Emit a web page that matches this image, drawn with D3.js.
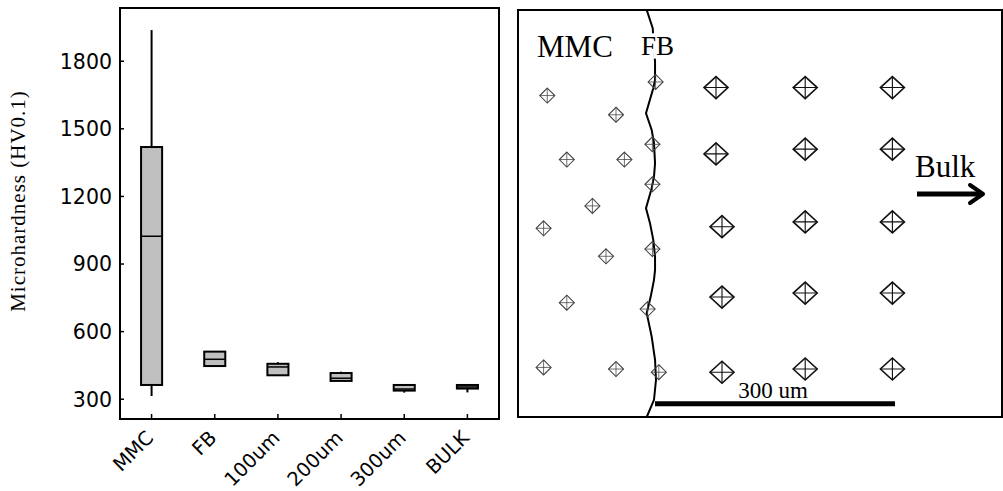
<!DOCTYPE html>
<html>
<head>
<meta charset="utf-8">
<script src="https://cdn.jsdelivr.net/npm/d3@7"></script>
<style>
  html, body { margin: 0; padding: 0; background: #fff; }
  svg { display: block; }
</style>
</head>
<body>
<svg id="chart" width="1003" height="491"></svg>
<script>
// ---------- Box plot data (HV0.1) ----------
const categories = ["MMC", "FB", "100um", "200um", "300um", "BULK"];
const whiskerLow  = [312, 441, 401, 378, 327, 328];
const q1          = [361, 445, 404, 379, 336, 345];
const median      = [1021, 475, 441, 391, 343, 352];
const q3          = [1417, 509, 455, 414, 361, 361];
const whiskerHigh = [1936, 512, 462, 420, 361, 361];
const yTicks = [300, 600, 900, 1200, 1500, 1800];

// ---------- Schematic panel data (micrometres) ----------
const smallIndentX = [36.6, 122.5, 172, 61, 133, 168, 168, 93, 32, 168, 110, 61, 162, 32, 122.5, 176];
const smallIndentY = [107, 131, 90, 187, 187, 168, 218, 245, 273, 299, 308, 366, 374, 447, 449, 453];
const largeIndentX = [247.5, 359, 468, 247.5, 359, 468, 255, 359, 468, 255, 359, 468, 255, 359, 468];
const largeIndentY = [97, 97, 97, 180, 174, 174, 271, 265, 265, 359, 354, 354, 453, 449, 449];
const boundaryX = [160.9, 168.4, 171.3, 171.3, 169.1, 160, 167.1, 170, 171.3, 170, 167.1, 160, 165, 169.1, 171.3, 171.3, 170, 165.9, 160.9, 167.1, 171.3, 172.5, 170, 160.9];
const boundaryY = [0, 22.9, 64.6, 87.5, 97.9, 129.1, 150, 166.6, 191.6, 208.4, 222.9, 247.9, 266.6, 287.5, 308.4, 325, 337.5, 358.4, 379.1, 408.4, 437.5, 462.5, 487.5, 509];
const scaleBarStart = 171.25, scaleBarLength = 300, scaleBarY = 492.5;
const panelWidthUm = 605, panelHeightUm = 509;

const svg = d3.select("#chart");

// ================= LEFT: box plot =================
const L = { left: 120, right: 499, top: 8, bottom: 419 };
const x = d3.scaleBand().domain(categories).range([L.left, L.right]).padding(0);
const y = d3.scaleLinear().domain([210, 2034]).range([L.bottom, L.top]);

const left = svg.append("g");

// y axis ticks (inward) and labels
const yAxis = d3.axisLeft(y).tickValues(yTicks).tickFormat(d3.format("d"))
  .tickSizeInner(-4).tickSizeOuter(0).tickPadding(10);
const gy = left.append("g").attr("transform", `translate(${L.left},0)`).call(yAxis);
gy.select(".domain").remove();
gy.selectAll(".tick line").attr("stroke", "#000").attr("stroke-width", 1.5);
gy.selectAll(".tick text")
  .attr("x", -8)
  .attr("font-family", "DejaVu Sans, Verdana, sans-serif")
  .attr("font-size", 20.5).attr("fill", "#000").attr("dy", "0.36em");

// x axis ticks (inward) and rotated labels
const xAxis = d3.axisBottom(x).tickSizeInner(-5).tickSizeOuter(0).tickFormat("");
const gx = left.append("g").attr("transform", `translate(0,${L.bottom})`).call(xAxis);
gx.select(".domain").remove();
gx.selectAll(".tick line").attr("stroke", "#000").attr("stroke-width", 1.5);
left.append("g").selectAll("text").data(categories).join("text")
  .attr("transform", d => `translate(${x(d) + x.bandwidth() / 2 + 3},${L.bottom + 20}) rotate(-45)`)
  .attr("text-anchor", "end")
  .attr("font-family", "DejaVu Sans, Verdana, sans-serif")
  .attr("font-size", 19.5).attr("fill", "#000")
  .text(d => d);

// y label
left.append("text")
  .attr("transform", `translate(25,201) rotate(-90)`)
  .attr("text-anchor", "middle")
  .attr("font-family", "Liberation Serif, Times New Roman, serif")
  .attr("font-size", 21).attr("letter-spacing", 1).attr("fill", "#000")
  .text("Microhardness (HV0.1)");

// boxes
const boxW = x.bandwidth() / 3;
const boxes = left.append("g").selectAll("g").data(categories).join("g");
boxes.append("line")
  .attr("x1", (d) => x(d) + x.bandwidth() / 2).attr("x2", (d) => x(d) + x.bandwidth() / 2)
  .attr("y1", (d, i) => y(whiskerHigh[i])).attr("y2", (d, i) => y(q3[i]))
  .attr("stroke", "#000").attr("stroke-width", 2);
boxes.append("line")
  .attr("x1", (d) => x(d) + x.bandwidth() / 2).attr("x2", (d) => x(d) + x.bandwidth() / 2)
  .attr("y1", (d, i) => y(q1[i])).attr("y2", (d, i) => y(whiskerLow[i]))
  .attr("stroke", "#000").attr("stroke-width", 2);
boxes.append("rect")
  .attr("x", d => x(d) + x.bandwidth() / 2 - boxW / 2)
  .attr("width", boxW)
  .attr("y", (d, i) => y(q3[i]))
  .attr("height", (d, i) => y(q1[i]) - y(q3[i]))
  .attr("fill", "#c0c0c0").attr("stroke", "#000").attr("stroke-width", 2);
boxes.append("line")
  .attr("x1", d => x(d) + x.bandwidth() / 2 - boxW / 2)
  .attr("x2", d => x(d) + x.bandwidth() / 2 + boxW / 2)
  .attr("y1", (d, i) => y(median[i])).attr("y2", (d, i) => y(median[i]))
  .attr("stroke", "#000").attr("stroke-width", 1.5);

// frame
left.append("rect")
  .attr("x", L.left).attr("y", L.top)
  .attr("width", L.right - L.left).attr("height", L.bottom - L.top)
  .attr("fill", "none").attr("stroke", "#000").attr("stroke-width", 2);

// ================= RIGHT: schematic =================
const R = { left: 518, right: 1002, top: 10, bottom: 417 };
const sx = d3.scaleLinear().domain([0, panelWidthUm]).range([R.left, R.right]);
const sy = d3.scaleLinear().domain([0, panelHeightUm]).range([R.top, R.bottom]);
const right = svg.append("g");

right.append("rect")
  .attr("x", R.left).attr("y", R.top)
  .attr("width", R.right - R.left).attr("height", R.bottom - R.top)
  .attr("fill", "#fff").attr("stroke", "#000").attr("stroke-width", 2);

function indent(g, xs, ys, hw, hh, color, sw) {
  const pts = xs.map((v, i) => [sx(v), sy(ys[i])]);
  const gg = g.append("g").selectAll("g").data(pts).join("g")
    .attr("transform", d => `translate(${d[0]},${d[1]})`);
  gg.append("path")
    .attr("d", `M0,${-hh}L${hw},0L0,${hh}L${-hw},0Z`)
    .attr("fill", "none").attr("stroke", color).attr("stroke-width", sw);
  gg.append("path")
    .attr("d", `M0,${-hh}V${hh}M${-hw},0H${hw}`)
    .attr("fill", "none").attr("stroke", color).attr("stroke-width", sw * 0.7);
}

// boundary line
const line = d3.line().x(d => sx(d[0])).y(d => sy(d[1]));
right.append("path")
  .datum(boundaryX.map((v, i) => [v, boundaryY[i]]))
  .attr("d", line)
  .attr("fill", "none").attr("stroke", "#000").attr("stroke-width", 2);

indent(right, smallIndentX, smallIndentY, 7.5, 7.5, "#444", 1.1);
indent(right, largeIndentX, largeIndentY, 12, 11, "#111", 1.6);

const serif = "Liberation Serif, Times New Roman, serif";
right.append("text").attr("x", 537).attr("y", 57)
  .attr("font-family", serif).attr("font-size", 31).attr("fill", "#000").text("MMC");
right.append("text").attr("x", 641).attr("y", 55)
  .attr("font-family", serif).attr("font-size", 27).attr("fill", "#000")
  .attr("stroke", "#fff").attr("stroke-width", 7).attr("paint-order", "stroke")
  .text("FB");
right.append("text").attr("x", 915).attr("y", 177)
  .attr("font-family", serif).attr("font-size", 31).attr("fill", "#000").text("Bulk");

// arrow
right.append("line").attr("x1", 917).attr("x2", 980).attr("y1", 194).attr("y2", 194)
  .attr("stroke", "#000").attr("stroke-width", 5);
right.append("path").attr("d", "M970,185L983,194L970,203")
  .attr("fill", "none").attr("stroke", "#000").attr("stroke-width", 4)
  .attr("stroke-linecap", "round").attr("stroke-linejoin", "round");

// scale bar
right.append("line")
  .attr("x1", sx(scaleBarStart)).attr("x2", sx(scaleBarStart + scaleBarLength))
  .attr("y1", sy(scaleBarY)).attr("y2", sy(scaleBarY))
  .attr("stroke", "#000").attr("stroke-width", 5);
right.append("text")
  .attr("x", sx(scaleBarStart + scaleBarLength / 2) - 2).attr("y", 398)
  .attr("text-anchor", "middle")
  .attr("font-family", serif).attr("font-size", 23).attr("fill", "#000")
  .text(scaleBarLength + " um");
</script>
</body>
</html>
